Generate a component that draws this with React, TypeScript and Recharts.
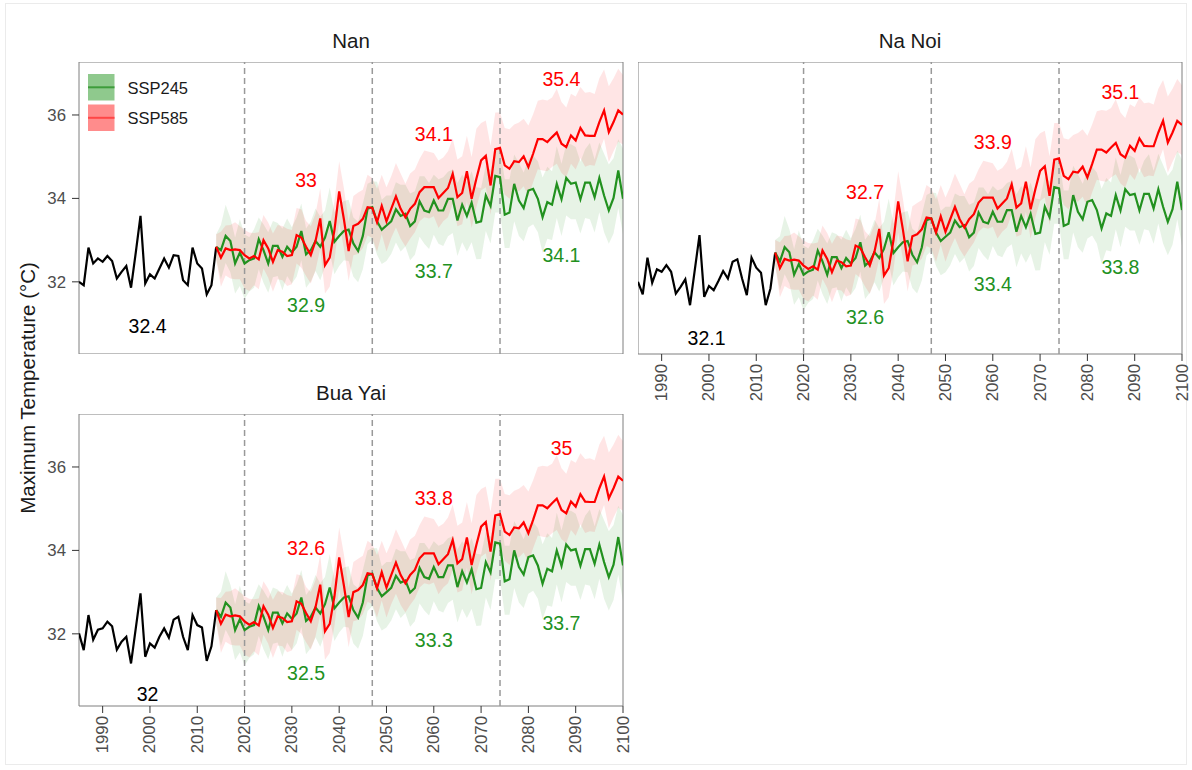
import React from "react";
import {
  ComposedChart,
  Line,
  Area,
  XAxis,
  YAxis,
  ReferenceLine,
  ReferenceDot,
  ReferenceArea,
} from "recharts";

const FONT = '"Liberation Sans", Arial, Helvetica, sans-serif';
const RED = "#ff0000";
const GREEN = "#22911f";
const TICK_GREY = "#4d4d4d";

// x axis
const X_TICKS = [1990, 2000, 2010, 2020, 2030, 2040, 2050, 2060, 2070, 2080, 2090, 2100];
const Y_TICKS = [32, 34, 36];
const PERIOD_BREAKS = [2020, 2047, 2074];
const PERIOD_MID = [2033, 2060, 2087];
const HIST_MID = 1999.5;

// historical 1985-2014
const nanHist = [32.0, 31.92, 32.82, 32.44, 32.56, 32.48, 32.62, 32.5, 32.08, 32.24, 32.38, 31.86, 32.7, 33.58, 31.96, 32.18, 32.08, 32.32, 32.56, 32.34, 32.64, 32.62, 32.04, 31.92, 32.82, 32.44, 32.32, 31.7, 31.92, 32.84];
const naNoiHist = [32.0, 31.7, 32.58, 31.98, 32.3, 32.24, 32.4, 32.24, 31.72, 31.88, 32.06, 31.44, 32.28, 33.12, 31.64, 31.9, 31.8, 32.02, 32.26, 32.08, 32.48, 32.54, 32.08, 31.68, 32.58, 32.34, 32.22, 31.44, 31.84, 32.7];
const buaYaiHist = [32.01, 31.61, 32.45, 31.86, 32.1, 32.13, 32.29, 32.18, 31.62, 31.81, 31.93, 31.29, 32.13, 32.97, 31.45, 31.77, 31.67, 31.93, 32.13, 31.91, 32.34, 32.41, 31.93, 31.61, 32.45, 32.21, 32.15, 31.35, 31.7, 32.57];

// scenario ensemble means 2014-2100
const nan245 = [
  32.84, 32.76, 33.10, 32.98, 32.44, 32.70, 32.44, 32.52, 32.56, 33.02,
  32.76, 32.44, 32.86, 32.86, 32.60, 32.84, 32.71, 32.84, 33.22, 32.66,
  32.76, 32.98, 32.84, 33.06, 33.46, 32.96, 33.10, 33.22, 33.25, 32.92,
  32.74, 33.10, 33.75, 33.79, 33.45, 33.25, 33.35, 33.45, 33.74, 33.58,
  33.63, 33.34, 33.45, 33.93, 33.71, 33.67, 33.95, 33.71, 33.71, 33.99,
  33.99, 33.47, 33.85, 33.58, 33.90, 33.42, 33.45, 34.07, 33.82, 34.54,
  34.51, 33.61, 33.66, 34.35, 33.95, 33.77, 34.19, 34.23, 33.99, 33.55,
  33.91, 33.85, 34.35, 33.98, 34.49, 34.35, 34.38, 33.98, 34.38, 34.38,
  34.03, 34.49, 34.07, 33.71, 34.01, 34.67, 33.99,
];
const nan585 = [
  32.84, 32.58, 32.80, 32.76, 32.78, 32.76, 32.64, 32.56, 32.62, 32.54,
  33.00, 32.80, 32.48, 32.76, 32.72, 32.62, 32.64, 33.12, 33.06, 32.84,
  32.64, 32.98, 33.52, 32.40, 32.58, 33.24, 34.17, 33.50, 32.74, 33.34,
  33.39, 33.51, 33.79, 33.77, 33.43, 33.82, 33.45, 33.75, 34.05, 33.75,
  33.55, 33.75, 33.87, 34.15, 34.27, 34.27, 34.27, 34.01, 34.13, 34.25,
  34.59, 34.03, 34.13, 34.65, 33.99, 34.47, 34.91, 35.02, 34.31, 35.18,
  35.21, 34.79, 34.71, 34.89, 34.87, 35.01, 34.75, 35.07, 35.42, 35.42,
  35.35, 35.47, 35.58, 35.31, 35.23, 35.51, 35.39, 35.69, 35.51, 35.50,
  35.50, 35.83, 36.11, 35.59, 35.83, 36.11, 36.01,
];
const naNoi245 = [
  32.70, 32.49, 32.83, 32.71, 32.17, 32.43, 32.17, 32.25, 32.29, 32.75,
  32.49, 32.17, 32.59, 32.59, 32.33, 32.57, 32.44, 32.57, 32.95, 32.39,
  32.49, 32.71, 32.57, 32.79, 33.19, 32.69, 32.83, 32.95, 32.98, 32.65,
  32.47, 32.83, 33.48, 33.52, 33.18, 32.98, 33.08, 33.18, 33.47, 33.31,
  33.36, 33.07, 33.18, 33.66, 33.44, 33.40, 33.68, 33.44, 33.44, 33.72,
  33.72, 33.20, 33.58, 33.31, 33.63, 33.15, 33.18, 33.80, 33.55, 34.27,
  34.24, 33.34, 33.39, 34.08, 33.68, 33.50, 33.92, 33.96, 33.72, 33.28,
  33.64, 33.58, 34.08, 33.71, 34.22, 34.08, 34.11, 33.71, 34.11, 34.11,
  33.76, 34.22, 33.80, 33.44, 33.74, 34.40, 33.72,
];
const naNoi585 = [
  32.70, 32.33, 32.55, 32.51, 32.53, 32.51, 32.39, 32.31, 32.37, 32.29,
  32.75, 32.55, 32.23, 32.51, 32.47, 32.37, 32.39, 32.87, 32.81, 32.59,
  32.39, 32.73, 33.27, 32.15, 32.33, 32.99, 33.93, 33.25, 32.49, 33.09,
  33.14, 33.26, 33.54, 33.52, 33.18, 33.57, 33.20, 33.50, 33.80, 33.50,
  33.30, 33.50, 33.62, 33.90, 34.02, 34.02, 34.02, 33.76, 33.88, 34.00,
  34.34, 33.78, 33.88, 34.40, 33.74, 34.22, 34.66, 34.77, 34.06, 34.93,
  34.96, 34.54, 34.46, 34.64, 34.62, 34.76, 34.50, 34.82, 35.17, 35.17,
  35.10, 35.22, 35.33, 35.06, 34.98, 35.26, 35.14, 35.44, 35.26, 35.25,
  35.25, 35.58, 35.86, 35.34, 35.58, 35.86, 35.76,
];
const buaYai245 = [
  32.57, 32.41, 32.75, 32.63, 32.09, 32.35, 32.09, 32.17, 32.21, 32.67,
  32.41, 32.09, 32.51, 32.51, 32.25, 32.49, 32.36, 32.49, 32.87, 32.31,
  32.41, 32.63, 32.49, 32.71, 33.11, 32.61, 32.75, 32.87, 32.90, 32.57,
  32.39, 32.75, 33.40, 33.44, 33.10, 32.90, 33.00, 33.10, 33.39, 33.23,
  33.28, 32.99, 33.10, 33.58, 33.36, 33.32, 33.60, 33.36, 33.36, 33.64,
  33.64, 33.12, 33.50, 33.23, 33.55, 33.07, 33.10, 33.72, 33.47, 34.19,
  34.16, 33.26, 33.31, 34.00, 33.60, 33.42, 33.84, 33.88, 33.64, 33.20,
  33.56, 33.50, 34.00, 33.63, 34.14, 34.00, 34.03, 33.63, 34.03, 34.03,
  33.68, 34.14, 33.72, 33.36, 33.66, 34.32, 33.64,
];
const buaYai585 = [
  32.57, 32.24, 32.46, 32.42, 32.44, 32.42, 32.30, 32.22, 32.28, 32.20,
  32.66, 32.46, 32.14, 32.42, 32.38, 32.28, 32.30, 32.78, 32.72, 32.50,
  32.30, 32.64, 33.18, 32.06, 32.24, 32.90, 33.83, 33.16, 32.40, 33.00,
  33.05, 33.17, 33.45, 33.43, 33.09, 33.48, 33.11, 33.41, 33.71, 33.41,
  33.21, 33.41, 33.53, 33.81, 33.93, 33.93, 33.93, 33.67, 33.79, 33.91,
  34.25, 33.69, 33.79, 34.31, 33.65, 34.13, 34.57, 34.68, 33.97, 34.84,
  34.87, 34.45, 34.37, 34.55, 34.53, 34.67, 34.41, 34.73, 35.08, 35.08,
  35.01, 35.13, 35.24, 34.97, 34.89, 35.17, 35.05, 35.35, 35.17, 35.16,
  35.16, 35.49, 35.77, 35.25, 35.49, 35.77, 35.67,
];

// ensemble spread above / below the mean, 2014-2100
const up245 = [
  0.30, 0.60, 0.75, 0.55, 0.62, 0.80, 0.70, 0.55, 0.70, 0.52,
  0.62, 0.75, 0.60, 0.55, 0.68, 0.68, 0.60, 0.70, 0.66, 0.62,
  0.68, 0.78, 0.72, 0.65, 0.80, 0.70, 0.75, 0.72, 0.72, 0.62,
  0.70, 0.78, 0.60, 0.62, 0.95, 0.72, 0.72, 0.62, 0.65, 0.75,
  0.70, 0.78, 0.72, 0.60, 0.82, 0.70, 0.62, 0.75, 0.80, 0.65,
  0.70, 0.90, 0.72, 0.80, 0.75, 0.85, 0.80, 0.72, 0.85, 0.60,
  0.70, 0.85, 0.80, 0.70, 0.90, 0.85, 0.75, 0.80, 0.90, 0.95,
  0.85, 0.80, 0.90, 0.85, 0.80, 0.95, 0.85, 0.90, 0.80, 0.95,
  0.90, 0.85, 1.00, 1.10, 0.95, 0.75, 1.20,
];
const dn245 = [
  0.30, 0.70, 0.65, 0.75, 0.72, 0.80, 0.85, 0.75, 0.70, 0.72,
  0.78, 0.70, 0.75, 0.72, 0.80, 0.70, 0.75, 0.72, 0.70, 0.80,
  0.75, 0.72, 0.80, 0.70, 0.75, 0.78, 0.72, 0.70, 0.75, 0.80,
  0.75, 0.80, 0.85, 0.78, 0.80, 0.82, 0.85, 0.78, 0.80, 0.85,
  0.78, 0.82, 0.80, 0.85, 0.80, 0.88, 0.82, 0.80, 0.85, 0.90,
  0.82, 0.85, 0.90, 0.85, 0.95, 0.88, 0.90, 0.85, 0.90, 0.88,
  0.85, 0.80, 0.85, 0.90, 0.85, 0.80, 0.88, 0.85, 0.80, 0.85,
  0.88, 0.85, 0.82, 0.88, 0.90, 0.85, 0.88, 0.82, 0.85, 0.88,
  0.85, 0.82, 0.88, 0.80, 0.85, 0.90, 0.85,
];
const up585 = [
  0.30, 0.62, 0.55, 0.60, 0.65, 0.58, 0.60, 0.62, 0.55, 0.65,
  0.60, 0.62, 0.68, 0.60, 0.62, 0.65, 0.60, 0.65, 0.68, 0.62,
  0.70, 0.65, 0.72, 0.68, 0.75, 0.70, 0.72, 0.75, 0.70, 0.72,
  0.75, 0.70, 0.78, 0.72, 0.80, 0.75, 0.82, 0.78, 0.80, 0.85,
  0.80, 0.85, 0.82, 0.80, 0.88, 0.85, 0.82, 0.90, 0.85, 0.88,
  0.85, 0.90, 0.88, 0.85, 1.00, 1.20, 0.90, 0.85, 0.95, 0.88,
  0.85, 0.90, 0.95, 0.88, 0.95, 0.90, 1.00, 0.95, 0.92, 0.95,
  1.00, 0.95, 1.05, 1.00, 0.95, 1.00, 1.05, 0.98, 1.02, 1.05,
  1.00, 1.05, 0.98, 1.10, 1.05, 1.00, 0.95,
];
const dn585 = [
  0.30, 0.70, 0.65, 0.68, 0.72, 0.70, 0.80, 0.78, 0.70, 0.72,
  0.68, 0.70, 0.72, 0.70, 0.68, 0.72, 0.70, 0.68, 0.72, 0.70,
  0.68, 0.70, 0.72, 0.68, 0.70, 0.72, 0.75, 0.70, 0.72, 0.70,
  0.72, 0.70, 0.68, 0.72, 0.70, 0.68, 0.72, 0.70, 0.75, 0.72,
  0.70, 0.72, 0.68, 0.70, 0.72, 0.75, 0.70, 0.72, 0.68, 0.70,
  0.72, 0.70, 0.75, 0.72, 0.70, 0.68, 0.72, 0.75, 0.70, 0.72,
  0.75, 0.70, 0.72, 0.68, 0.70, 0.72, 0.70, 0.68, 0.72, 0.75,
  0.70, 0.72, 0.75, 0.70, 0.72, 0.68, 0.70, 0.72, 0.75, 0.70,
  0.72, 0.70, 0.68, 0.72, 0.70, 0.75, 0.72,
];

// period means printed on the panels
const nanHistMean = 32.4;
const nan245Means = [32.9, 33.7, 34.1];
const nan585Means = [33, 34.1, 35.4];
const naNoiHistMean = 32.1;
const naNoi245Means = [32.6, 33.4, 33.8];
const naNoi585Means = [32.7, 33.9, 35.1];
const buaYaiHistMean = 32;
const buaYai245Means = [32.5, 33.3, 33.7];
const buaYai585Means = [32.6, 33.8, 35];

const Y_DOMAIN: [number, number] = [30.27, 37.27];
const LABEL_OFFSET = 1.45;
const PLOT_W = 544;
const PLOT_H = 292;
const Y_AXIS_W = 60;
const X_AXIS_H = 62;
const RIGHT_PAD = 10;

function buildRows(hist: number[], s245: number[], s585: number[]) {
  const rows: any[] = [];
  for (let year = 1985; year <= 2100; year++) {
    const r: any = { year };
    if (year <= 2014) r.hist = hist[year - 1985];
    if (year >= 2014) {
      const i = year - 2014;
      r.s245 = s245[i];
      r.s585 = s585[i];
      r.b245 = [s245[i] - dn245[i], s245[i] + up245[i]];
      r.b585 = [s585[i] - dn585[i], s585[i] + up585[i]];
    }
    rows.push(r);
  }
  return rows;
}

const XTick = (props: any) => {
  const { x, y, payload } = props;
  return (
    <text
      x={x}
      y={y}
      transform={`rotate(-90, ${x}, ${y})`}
      textAnchor="end"
      dominantBaseline="central"
      fill={TICK_GREY}
      fontSize={16.8}
      fontFamily={FONT}
    >
      {payload.value}
    </text>
  );
};

interface PanelProps {
  title: string;
  left: number;
  top: number;
  hist: number[];
  s245: number[];
  s585: number[];
  histMean: number;
  means245: number[];
  means585: number[];
  showY: boolean;
  showX: boolean;
}

function Panel({ title, left, top, hist, s245, s585, histMean, means245, means585, showY, showX }: PanelProps) {
  const data = buildRows(hist, s245, s585);
  const w = PLOT_W + (showY ? Y_AXIS_W : 0) + RIGHT_PAD;
  const h = PLOT_H + (showX ? X_AXIS_H : 0);
  const labelStyle = (v: number, fill: string) => ({
    value: String(v),
    position: "center" as const,
    fill,
    fontSize: 19.5,
    fontFamily: FONT,
  });
  return (
    <div style={{ position: "absolute", left: left - (showY ? Y_AXIS_W : 0), top }}>
      <div
        style={{
          position: "absolute",
          left: showY ? Y_AXIS_W : 0,
          width: PLOT_W,
          top: -32,
          textAlign: "center",
          fontFamily: FONT,
          fontSize: 20.5,
          color: "#1a1a1a",
          lineHeight: "22px",
        }}
      >
        {title}
      </div>
      <ComposedChart width={w} height={h} data={data} margin={{ top: 0, right: RIGHT_PAD, bottom: 0, left: 0 }}>
        <XAxis
          dataKey="year"
          type="number"
          domain={[1985, 2100]}
          ticks={X_TICKS}
          allowDataOverflow
          hide={!showX}
          height={X_AXIS_H}
          axisLine={false}
          tickLine={{ stroke: "#333333" }}
          tickSize={7}
          tickMargin={3}
          tick={<XTick />}
          interval={0}
        />
        <YAxis
          type="number"
          domain={Y_DOMAIN}
          ticks={Y_TICKS}
          allowDataOverflow
          hide={!showY}
          width={Y_AXIS_W}
          axisLine={false}
          tickLine={{ stroke: "#333333" }}
          tickSize={7}
          tickMargin={6}
          tick={{ fill: TICK_GREY, fontSize: 16.8, fontFamily: FONT }}
        />
        <Area dataKey="b245" stroke="none" fill="#22911f" fillOpacity={0.11} isAnimationActive={false} />
        <Area dataKey="b585" stroke="none" fill={RED} fillOpacity={0.1} isAnimationActive={false} />
        {PERIOD_BREAKS.map((x) => (
          <ReferenceLine key={x} x={x} stroke="#999999" strokeWidth={1.5} strokeDasharray="6 4" />
        ))}
        <Line dataKey="hist" stroke="#000000" strokeWidth={2.2} dot={false} isAnimationActive={false} />
        <Line dataKey="s245" stroke={GREEN} strokeWidth={2.2} dot={false} isAnimationActive={false} />
        <Line dataKey="s585" stroke={RED} strokeWidth={2.2} dot={false} isAnimationActive={false} />
        <ReferenceDot
          x={HIST_MID}
          y={histMean - LABEL_OFFSET}
          r={0}
          fill="none"
          stroke="none"
          label={labelStyle(histMean, "#000000")}
        />
        {PERIOD_MID.map((x, i) => (
          <ReferenceDot
            key={"g" + x}
            x={x}
            y={means245[i] - LABEL_OFFSET}
            r={0}
            fill="none"
            stroke="none"
            label={labelStyle(means245[i], GREEN)}
          />
        ))}
        {PERIOD_MID.map((x, i) => (
          <ReferenceDot
            key={"r" + x}
            x={x}
            y={means585[i] + LABEL_OFFSET}
            r={0}
            fill="none"
            stroke="none"
            label={labelStyle(means585[i], RED)}
          />
        ))}
        <ReferenceArea
          x1={1985}
          x2={2100}
          y1={Y_DOMAIN[0]}
          y2={Y_DOMAIN[1]}
          fill="none"
          stroke="#7f7f7f"
          strokeWidth={1}
          ifOverflow="visible"
        />
      </ComposedChart>
    </div>
  );
}

function LegendBox() {
  const items = [
    { name: "SSP245", fill: "#8fc98d", line: "#3e9c3b" },
    { name: "SSP585", fill: "#ff8c8c", line: "#ff4646" },
  ];
  return (
    <svg style={{ position: "absolute", left: 86, top: 72 }} width={120} height={62}>
      {items.map((it, i) => (
        <g key={it.name} transform={`translate(0, ${i * 30.5})`}>
          <rect x={2} y={2} width={26.5} height={26.5} fill={it.fill} />
          <line x1={2} x2={28.5} y1={15.3} y2={15.3} stroke={it.line} strokeWidth={2} />
          <text x={41.5} y={15.8} dominantBaseline="central" fontSize={16.5} fontFamily={FONT} fill="#1a1a1a">
            {it.name}
          </text>
        </g>
      ))}
    </svg>
  );
}

export default function App() {
  return (
    <div style={{ position: "absolute", left: 0, top: 0, width: 1192, height: 770, background: "#ffffff", overflow: "hidden" }}>
      <div
        style={{
          position: "absolute",
          left: 5,
          top: 3,
          width: 1182,
          height: 762,
          border: "1px solid #ebebeb",
          boxSizing: "border-box",
        }}
      />
      <Panel
        title="Nan"
        left={79}
        top={62}
        hist={nanHist}
        s245={nan245}
        s585={nan585}
        histMean={nanHistMean}
        means245={nan245Means}
        means585={nan585Means}
        showY
        showX={false}
      />
      <Panel
        title="Na Noi"
        left={638}
        top={62}
        hist={naNoiHist}
        s245={naNoi245}
        s585={naNoi585}
        histMean={naNoiHistMean}
        means245={naNoi245Means}
        means585={naNoi585Means}
        showY={false}
        showX
      />
      <Panel
        title="Bua Yai"
        left={79}
        top={414}
        hist={buaYaiHist}
        s245={buaYai245}
        s585={buaYai585}
        histMean={buaYaiHistMean}
        means245={buaYai245Means}
        means585={buaYai585Means}
        showY
        showX
      />
      <LegendBox />
      <div
        style={{
          position: "absolute",
          left: 28,
          top: 388,
          transform: "translate(-50%, -50%) rotate(-90deg)",
          whiteSpace: "nowrap",
          fontFamily: FONT,
          fontSize: 20.5,
          color: "#1a1a1a",
        }}
      >
        Maximum Temperature (°C)
      </div>
    </div>
  );
}
